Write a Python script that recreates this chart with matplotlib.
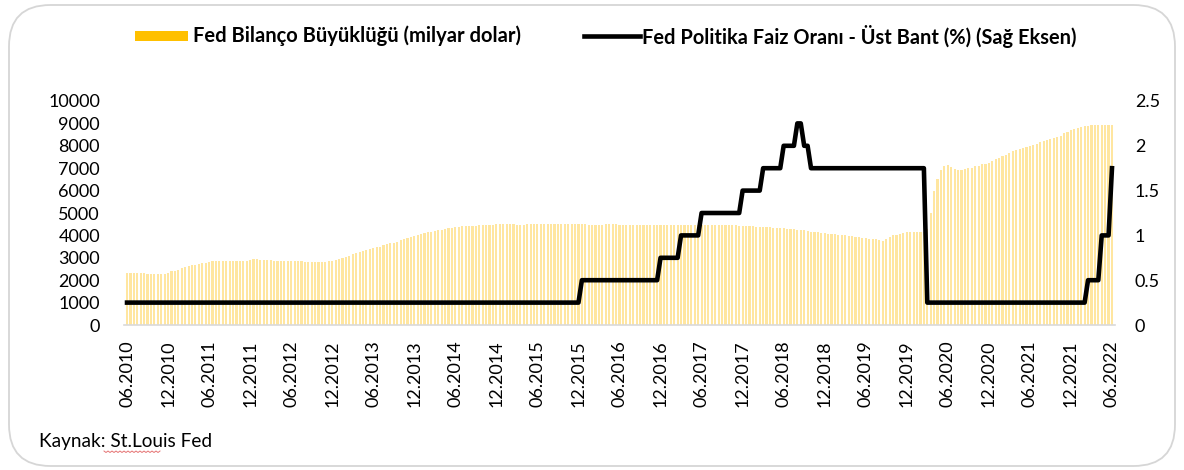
import matplotlib
matplotlib.use("Agg")
import matplotlib.pyplot as plt
from matplotlib.patches import FancyBboxPatch, Rectangle
from matplotlib.lines import Line2D
import numpy as np

plt.rcParams['font.family'] = ['Lato', 'DejaVu Sans']

# Fed balance sheet (billion USD), two readings per month, 06.2010 -> 06.2022
balance_2010 = [2330, 2330, 2320, 2310, 2300, 2300, 2290, 2290, 2290, 2290, 2280, 2290, 2330, 2400]
balance_2011 = [2420, 2460, 2530, 2570, 2620, 2660, 2690, 2720, 2760, 2790, 2820, 2860,
                2870, 2870, 2860, 2860, 2850, 2860, 2860, 2850, 2850, 2860, 2880, 2930]
balance_2012 = [2930, 2920, 2920, 2880, 2880, 2870, 2870, 2870, 2860, 2860, 2870, 2860,
                2850, 2850, 2820, 2820, 2810, 2820, 2820, 2830, 2830, 2840, 2860, 2900]
balance_2013 = [2950, 3000, 3050, 3090, 3150, 3200, 3240, 3290, 3330, 3380, 3420, 3460,
                3500, 3550, 3600, 3640, 3680, 3720, 3780, 3830, 3880, 3920, 3960, 4010]
balance_2014 = [4050, 4090, 4130, 4170, 4200, 4230, 4260, 4290, 4310, 4340, 4360, 4380,
                4400, 4410, 4420, 4430, 4440, 4450, 4460, 4470, 4480, 4480, 4490, 4490]
balance_2015 = [4490, 4490, 4490, 4490, 4480, 4480, 4480, 4490, 4490, 4490, 4490, 4490,
                4490, 4490, 4490, 4490, 4490, 4490, 4490, 4490, 4490, 4490, 4490, 4490]
balance_2016 = [4490, 4480, 4480, 4480, 4480, 4480, 4490, 4490, 4490, 4490, 4480, 4480,
                4480, 4480, 4480, 4480, 4480, 4480, 4480, 4480, 4480, 4480, 4480, 4480]
balance_2017 = [4480, 4480, 4480, 4480, 4480, 4480, 4480, 4480, 4480, 4480, 4480, 4480,
                4480, 4480, 4480, 4470, 4470, 4470, 4460, 4460, 4450, 4440, 4440, 4430]
balance_2018 = [4420, 4410, 4390, 4390, 4380, 4370, 4360, 4350, 4340, 4330, 4310, 4300,
                4280, 4270, 4250, 4240, 4220, 4200, 4170, 4150, 4130, 4120, 4090, 4080]
balance_2019 = [4060, 4050, 4030, 4020, 4000, 3990, 3960, 3940, 3920, 3900, 3880, 3860,
                3840, 3820, 3790, 3740, 3850, 3940, 4000, 4040, 4080, 4110, 4140, 4170]
balance_2020 = [4150, 4170, 4160, 4170, 4300, 5000, 6000, 6500, 6900, 7100, 7150, 7050,
                6950, 6900, 6920, 6950, 6990, 7030, 7080, 7120, 7180, 7200, 7250, 7330]
balance_2021 = [7400, 7450, 7550, 7600, 7700, 7750, 7800, 7850, 7900, 7950, 8000, 8050,
                8100, 8150, 8200, 8250, 8300, 8350, 8400, 8450, 8550, 8600, 8700, 8750]
balance_2022 = [8800, 8850, 8880, 8900, 8930, 8950, 8950, 8950, 8940, 8920, 8920]

balance = (balance_2010 + balance_2011 + balance_2012 + balance_2013 + balance_2014 +
           balance_2015 + balance_2016 + balance_2017 + balance_2018 + balance_2019 +
           balance_2020 + balance_2021 + balance_2022)

# Fed policy rate upper bound (%), as (value, number of half-month readings)
rate_runs = [(0.25, 133), (0.5, 23), (0.75, 6), (1.0, 6), (1.25, 12), (1.5, 6),
             (1.75, 6), (2.0, 4), (2.25, 2), (2.0, 2), (1.75, 34), (0.25, 47),
             (0.5, 4), (1.0, 3), (1.75, 1)]
rate = [v for v, n in rate_runs for _ in range(n)]

tick_labels = ["06.2010", "12.2010", "06.2011", "12.2011", "06.2012", "12.2012",
               "06.2013", "12.2013", "06.2014", "12.2014", "06.2015", "12.2015",
               "06.2016", "12.2016", "06.2017", "12.2017", "06.2018", "12.2018",
               "06.2019", "12.2019", "06.2020", "12.2020", "06.2021", "12.2021",
               "06.2022"]

left_ticks = [0, 1000, 2000, 3000, 4000, 5000, 6000, 7000, 8000, 9000, 10000]
right_ticks = [0, 0.5, 1, 1.5, 2, 2.5]
right_labels = ["0", "0.5", "1", "1.5", "2", "2.5"]

W, H = 1184, 470
fig = plt.figure(figsize=(W / 100, H / 100), dpi=100, facecolor="white")

# rounded border
border = FancyBboxPatch((9 / W, 4 / H), (1166) / W, (461) / H,
                        boxstyle="round,pad=0,rounding_size=0.035",
                        transform=fig.transFigure, facecolor="none",
                        edgecolor="#D6D6D6", linewidth=1.3, mutation_aspect=W / H,
                        zorder=-5)
fig.patches.append(border)

x = np.arange(len(balance))
ax_left = 123.6 / W
ax_w = (1115.4 - 123.6) / W
ax_b = (H - 325) / H
ax_h = (325 - 101) / H
ax = fig.add_axes([ax_left, ax_b, ax_w, ax_h])
ax.patch.set_alpha(0)
ax.bar(x, balance, width=0.62, color="#FFE6A0", linewidth=0)
ax.set_xlim(-1, len(balance))
ax.set_ylim(0, 10000)
ax.set_yticks(left_ticks)
ax.set_yticklabels([str(t) for t in left_ticks])
ax.set_xticks(np.arange(0, len(balance), 12))
ax.set_xticklabels(tick_labels, rotation=90)
for s in ["top", "right", "left"]:
    ax.spines[s].set_visible(False)
ax.spines["bottom"].set_color("#D9D9D9")
ax.spines["bottom"].set_linewidth(1.2)
ax.tick_params(axis="both", length=0, labelsize=13, colors="#000000")
ax.tick_params(axis="y", pad=17)
ax.tick_params(axis="x", pad=11)

ax2 = ax.twinx()
ax2.plot(x, rate, color="black", linewidth=3.3, solid_joinstyle="round")
ax2.set_ylim(0, 2.5)
ax2.set_yticks(right_ticks)
ax2.set_yticklabels(right_labels)
for s in ["top", "right", "left", "bottom"]:
    ax2.spines[s].set_visible(False)
ax2.tick_params(axis="y", length=0, labelsize=13, pad=14)

# legend
fig.patches.append(Rectangle((135 / W, (H - 41) / H), 53 / W, 10 / H,
                             transform=fig.transFigure, facecolor="#FFC000",
                             edgecolor="none"))
fig.text(193 / W, (H - 36) / H, "Fed Bilanço Büyüklüğü (milyar dolar)",
         fontsize=14.5, fontweight="bold", va="center", ha="left")
fig.lines.append(Line2D([584 / W, 640 / W], [(H - 36) / H, (H - 36) / H],
                        transform=fig.transFigure, color="black", linewidth=3.3))
fig.text(642 / W, (H - 36) / H, "Fed Politika Faiz Oranı - Üst Bant (%) (Sağ Eksen)",
         fontsize=14.4, fontweight="bold", va="center", ha="left")

fig.text(39 / W, (H - 441) / H, "Kaynak: St.Louis Fed", fontsize=13.7,
         va="center", ha="left")

# spell-check style wavy underline under "St.Louis"
wx = np.arange(104, 162, 2)
wy = np.where(np.arange(len(wx)) % 2 == 0, 451, 452.5)
fig.lines.append(Line2D(wx / W, (H - wy) / H, transform=fig.transFigure,
                        color="#E57373", linewidth=0.7))

fig.savefig("out.png", dpi=100)
